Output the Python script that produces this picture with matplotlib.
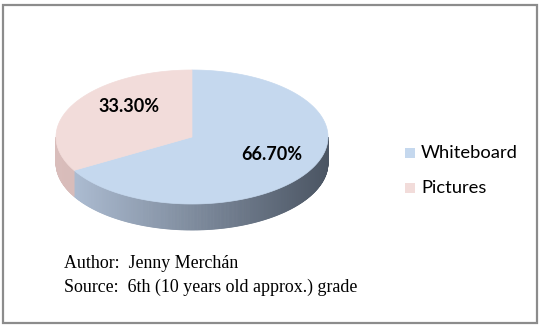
import numpy as np
import matplotlib.pyplot as plt
from matplotlib.patches import Polygon, Rectangle
from matplotlib.colors import to_rgb

labels = ['Whiteboard', 'Pictures']
values = [66.7, 33.3]
pct_labels = ['66.70%', '33.30%']
top_colors = ['#c5d8ee', '#f2dcda']
side_left = {'Whiteboard': '#b3c3d9', 'Pictures': '#d9bdbb'}
side_right = {'Whiteboard': '#4b5563', 'Pictures': '#c9aaa8'}

fig = plt.figure(figsize=(5.39, 3.30), dpi=100)
ax = fig.add_axes([0, 0, 1, 1])
ax.set_xlim(0, 539)
ax.set_ylim(330, 0)
ax.axis('off')

# outer frame
ax.add_patch(Rectangle((3, 5), 534, 318, fill=False, edgecolor='#8c8c8c', lw=1.6))

# ellipse geometry (pixel units)
cx, cy, rx, ry, depth = 192, 137, 136, 67, 26


def pt(theta, dy=0):
    t = np.radians(theta)
    return cx + rx * np.cos(t), cy - ry * np.sin(t) + dy


# slice angles: Pictures 90 -> 210, Whiteboard 210 -> 450 (counterclockwise)
total = sum(values)
spans = {}
start = 90
for lab, v in zip(labels[::-1], values[::-1]):
    end = start + 360 * v / total
    spans[lab] = (start, end)
    start = end

# side walls (front half 180..360) with a horizontal gradient
for lab in labels:
    a0, a1 = spans[lab]
    for off in (0, 360, -360):
        lo, hi = max(a0 + off, 180), min(a1 + off, 360)
        if hi <= lo:
            continue
        steps = np.linspace(lo, hi, int((hi - lo) * 2) + 2)
        c0, c1 = np.array(to_rgb(side_left[lab])), np.array(to_rgb(side_right[lab]))
        for s0, s1 in zip(steps[:-1], steps[1:]):
            frac = (pt(s0)[0] - (cx - rx)) / (2 * rx)
            col = c0 + (c1 - c0) * frac
            p = [pt(s0), pt(s1), pt(s1, depth), pt(s0, depth)]
            ax.add_patch(Polygon(p, closed=True, facecolor=col, edgecolor=col, lw=0.6))

# top face
for lab, col in zip(labels, top_colors):
    a0, a1 = spans[lab]
    arc = [pt(a) for a in np.linspace(a0, a1, 200)]
    ax.add_patch(Polygon([(cx, cy)] + arc, closed=True, facecolor=col, edgecolor=col, lw=0.5))

# percentage labels
ax.text(272, 155, pct_labels[0], fontsize=13, fontweight='bold', family='Lato',
        ha='center', va='center', color='black')
ax.text(129, 107, pct_labels[1], fontsize=13, fontweight='bold', family='Lato',
        ha='center', va='center', color='black')

# legend
for i, (lab, col) in enumerate(zip(labels, top_colors)):
    y = 153 + i * 35
    ax.add_patch(Rectangle((405, y - 5), 10, 10, facecolor=col, edgecolor='none'))
    ax.text(421, y, lab, family='Lato', fontsize=13.2, ha='left', va='center')

# author / source
ax.text(64, 263, 'Author:  Jenny Merchán', family='Liberation Serif', fontsize=12.9,
        ha='left', va='center')
ax.text(64, 287, 'Source:  6th (10 years old approx.) grade', family='Liberation Serif',
        fontsize=12.9, ha='left', va='center')

fig.savefig('out.png', dpi=100)
